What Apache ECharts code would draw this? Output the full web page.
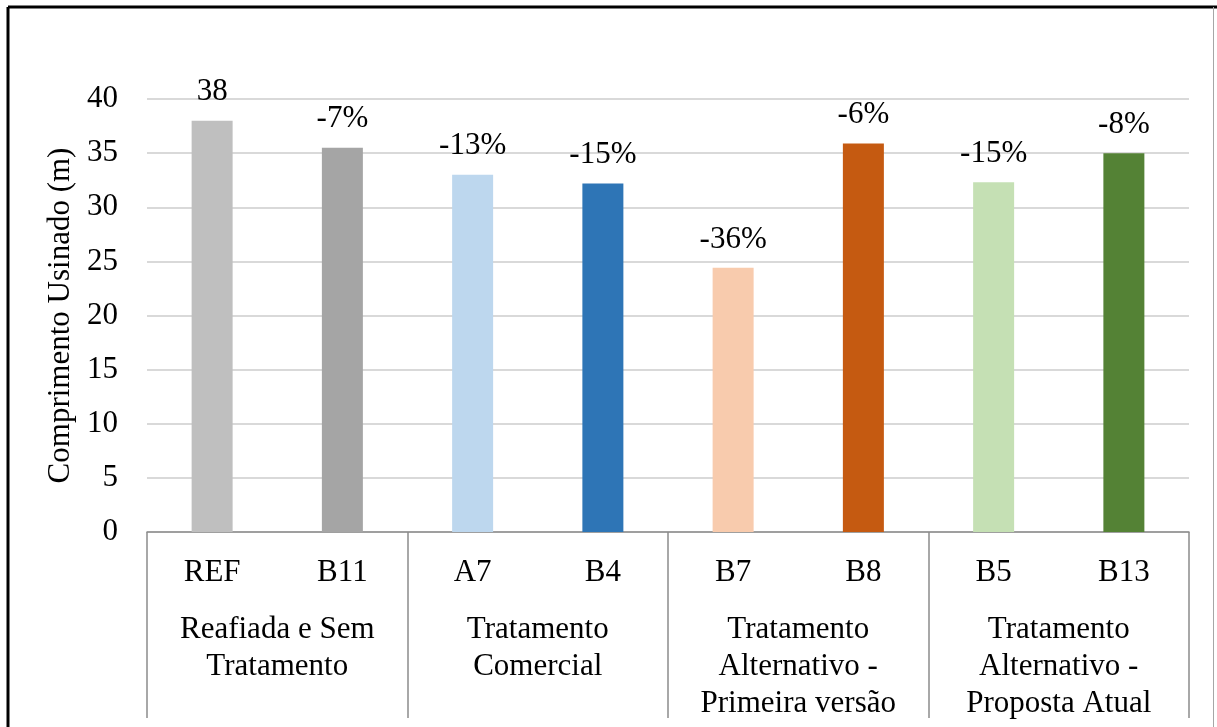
<!DOCTYPE html>
<html>

<head>
    <meta charset="utf-8" />
    <script src="https://cdn.jsdelivr.net/npm/echarts@6/dist/echarts.min.js"></script>
    <style>
        html, body { margin: 0; padding: 0; background: #fff; }
    </style>
</head>

<body>
    <div id="main" style="width: 1217px; height: 727px;"></div>
    <script type="text/javascript">
        // categorias, grupos e valores
        var amostras = ['REF', 'B11', 'A7', 'B4', 'B7', 'B8', 'B5', 'B13'];
        var grupos = [
            'Reafiada e Sem\nTratamento',
            'Tratamento\nComercial',
            'Tratamento\nAlternativo -\nPrimeira versão',
            'Tratamento\nAlternativo -\nProposta Atual'
        ];
        var comprimento = [38, 35.5, 33, 32.2, 24.4, 35.9, 32.3, 35];
        var rotulos = ['38', '-7%', '-13%', '-15%', '-36%', '-6%', '-15%', '-8%'];
        var cores = ['#bfbfbf', '#a5a5a5', '#bdd7ee', '#2e75b6', '#f8cbad', '#c55a11', '#c5e0b4', '#548235'];
        var yTicks = [0, 5, 10, 15, 20, 25, 30, 35, 40];

        var fonte = '"Liberation Serif", "Times New Roman", serif';
        var tam = 31;
        var myChart = echarts.init(document.getElementById('main'));

        var option = {
            animation: false,
            backgroundColor: '#fff',
            textStyle: { fontFamily: fonte },
            grid: { left: 147, right: 28, top: 99, bottom: 195, containLabel: false },
            xAxis: [
                {
                    type: 'category',
                    data: amostras,
                    axisLine: { show: true, lineStyle: { color: '#8c8c8c', width: 1.5 } },
                    axisTick: { show: false },
                    axisLabel: {
                        color: '#000', fontFamily: fonte, fontSize: tam,
                        lineHeight: 37, margin: 22
                    }
                },
                {
                    type: 'category',
                    position: 'bottom',
                    data: grupos,
                    axisLine: { show: false },
                    axisTick: { show: true, length: 186, lineStyle: { color: '#8c8c8c', width: 1.5 } },
                    axisLabel: {
                        color: '#000', fontFamily: fonte, fontSize: tam,
                        lineHeight: 37, margin: 79, interval: 0
                    }
                }
            ],
            yAxis: {
                type: 'value',
                min: yTicks[0],
                max: yTicks[yTicks.length - 1],
                interval: 5,
                name: 'Comprimento Usinado (m)',
                nameLocation: 'middle',
                nameGap: 65,
                nameTextStyle: { color: '#000', fontFamily: fonte, fontSize: tam },
                axisLine: { show: false },
                axisTick: { show: false },
                axisLabel: { color: '#000', fontFamily: fonte, fontSize: tam, margin: 29 },
                splitLine: { lineStyle: { color: '#d9d9d9', width: 2 } }
            },
            series: [
                {
                    type: 'bar',
                    xAxisIndex: 0,
                    barWidth: 41,
                    data: comprimento.map(function (v, i) {
                        return { value: v, itemStyle: { color: cores[i] } };
                    }),
                    label: {
                        show: true,
                        position: 'top',
                        distance: 13,
                        color: '#000',
                        fontFamily: fonte,
                        fontSize: tam,
                        formatter: function (p) { return rotulos[p.dataIndex]; }
                    }
                }
            ],
            graphic: [
                // moldura da figura
                { type: 'line', shape: { x1: 8, y1: 7, x2: 1217, y2: 7 }, style: { stroke: '#000', lineWidth: 3 } },
                { type: 'line', shape: { x1: 8, y1: 7, x2: 8, y2: 727 }, style: { stroke: '#000', lineWidth: 3 } },
                { type: 'line', shape: { x1: 1213.5, y1: 7, x2: 1213.5, y2: 727 }, style: { stroke: '#a6a6a6', lineWidth: 1 } }
            ]
        };

        myChart.setOption(option);
    </script>
</body>

</html>
